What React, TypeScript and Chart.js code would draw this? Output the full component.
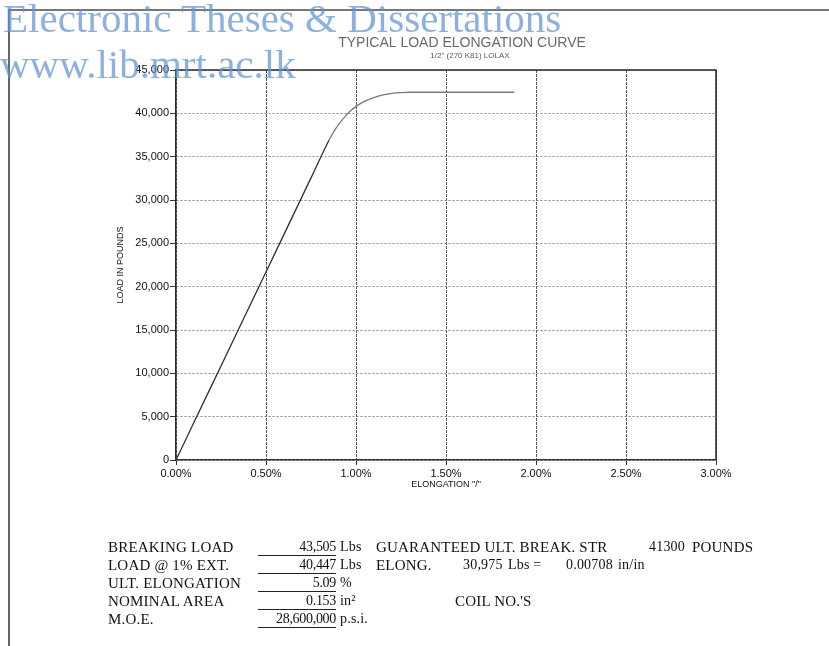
import React, { useEffect, useRef } from "react";
import { Chart, registerables } from "chart.js";

Chart.register(...registerables);

// ---- Text ----
const TITLE = "TYPICAL LOAD ELONGATION CURVE";
const SUBTITLE = '1/2" (270 K81) LOLAX';
const X_TITLE = 'ELONGATION "/"';
const Y_TITLE = "LOAD IN POUNDS";
const WATERMARK_LINE1 = "Electronic Theses & Dissertations";
const WATERMARK_LINE2 = "www.lib.mrt.ac.lk";

// ---- Data (elongation in %, load in lbs) ----
const elongation = [0, 0.1, 0.25, 0.5, 0.75, 0.85, 0.88, 0.91, 0.94, 0.97, 1.0, 1.05, 1.1, 1.15, 1.2, 1.25, 1.3, 1.5, 1.88];
const load = [0, 4350, 10850, 21700, 32550, 36900, 38000, 38900, 39650, 40300, 40800, 41400, 41820, 42120, 42310, 42400, 42430, 42430, 42430];
// elongation (%) where the plotted line changes from dark (elastic) to grey (yield)
const YIELD_START = 0.85;

// ---- Axis ticks ----
const X_MIN = 0;
const X_MAX = 3;
const X_STEP = 0.5;
const Y_MIN = 0;
const Y_MAX = 45000;
const Y_STEP = 5000;

// ---- Table below the chart ----
const tableLabels = ["BREAKING LOAD", "LOAD @ 1% EXT.", "ULT. ELONGATION", "NOMINAL AREA", "M.O.E."];
const tableValues = ["43,505", "40,447", "5.09", "0.153", "28,600,000"];
const tableUnits = ["Lbs", "Lbs", "%", "in²", "p.s.i."];

const SANS = "'Liberation Sans', Arial, sans-serif";
const SERIF = "'Liberation Serif', 'Times New Roman', serif";

const decorPlugin = {
  id: "decor",
  afterDraw(chart: any) {
    const { ctx, chartArea: a } = chart;
    ctx.save();
    ctx.strokeStyle = "#2a2a2a";
    ctx.lineWidth = 1.5;
    ctx.beginPath();
    ctx.moveTo(a.left, a.top);
    ctx.lineTo(a.right, a.top);
    ctx.lineTo(a.right, a.bottom);
    ctx.stroke();
    const cx = (a.left + a.right) / 2 + 16;
    ctx.fillStyle = "#6a6a6a";
    ctx.textAlign = "center";
    ctx.textBaseline = "middle";
    ctx.font = `14px ${SANS}`;
    ctx.fillText(TITLE, cx, 43);
    ctx.fillStyle = "#5a5a5a";
    ctx.font = `8px ${SANS}`;
    ctx.fillText(SUBTITLE, cx + 8, 56);
    ctx.restore();
  },
};

function ChartCanvas() {
  const ref = useRef<HTMLCanvasElement | null>(null);
  useEffect(() => {
    if (!ref.current) return;
    const chart = new Chart(ref.current, {
      type: "scatter",
      data: {
        datasets: [
          {
            label: "Load",
            data: elongation.map((x, i) => ({ x, y: load[i] })),
            showLine: true,
            borderColor: "#303030",
            borderWidth: 1.3,
            pointRadius: 0,
            cubicInterpolationMode: "monotone",
            segment: {
              borderColor: (c: any) => (c.p0.parsed.x >= YIELD_START ? "#7a7a7a" : "#303030"),
            },
          },
        ],
      },
      options: {
        animation: false,
        responsive: false,
        devicePixelRatio: 1,
        layout: { padding: { left: 111, right: 113, top: 70, bottom: 152 } },
        plugins: {
          legend: { display: false },
          title: { display: false },
          tooltip: { enabled: false },
        },
        scales: {
          x: {
            type: "linear",
            min: X_MIN,
            max: X_MAX,
            afterFit: (s: any) => {
              s.height = 34;
            },
            ticks: {
              stepSize: X_STEP,
              padding: 2,
              color: "#111",
              font: { family: SANS, size: 11 },
              maxRotation: 0,
              callback: (v: any) => Number(v).toFixed(2) + "%",
            },
            grid: {
              color: "#555",
              lineWidth: 1,
              tickLength: 5,
              tickColor: "#333",
              tickBorderDash: [],
            },
            border: { color: "#333", width: 1.5, dash: [3, 1] },
            title: {
              display: true,
              text: X_TITLE,
              color: "#111",
              font: { family: SANS, size: 9 },
            },
          },
          y: {
            type: "linear",
            min: Y_MIN,
            max: Y_MAX,
            afterFit: (s: any) => {
              s.width = 65;
            },
            ticks: {
              stepSize: Y_STEP,
              padding: 1,
              color: "#111",
              font: { family: SANS, size: 11 },
              callback: (v: any) => Number(v).toLocaleString("en-US"),
            },
            grid: {
              color: "#888",
              lineWidth: 1,
              tickLength: 6,
              tickColor: "#333",
              tickBorderDash: [],
            },
            border: { color: "#2a2a2a", width: 1.5, dash: [2, 2] },
            title: {
              display: true,
              text: Y_TITLE,
              color: "#111",
              font: { family: SANS, size: 9 },
            },
          },
        },
      },
      plugins: [decorPlugin],
    } as any);
    return () => chart.destroy();
  }, []);
  return (
    <canvas
      ref={ref}
      width={829}
      height={646}
      style={{ position: "absolute", left: 0, top: 0, width: 829, height: 646 }}
    />
  );
}

const rowBaselines = [552, 570, 588, 606, 624];

// top of an 18px line box whose text baseline sits at `baseline` (Liberation Serif metrics)
const topFor = (baseline: number, fs: number) => baseline - ((18 - 1.107 * fs) / 2 + 0.891 * fs);

function Cell(props: { left: number; row: number; fs?: number; style?: React.CSSProperties; children: React.ReactNode }) {
  const fs = props.fs ?? 15;
  return (
    <div
      style={{
        position: "absolute",
        left: props.left,
        top: topFor(rowBaselines[props.row], fs),
        fontFamily: SERIF,
        fontSize: fs,
        lineHeight: "18px",
        color: "#111",
        whiteSpace: "nowrap",
        letterSpacing: 0.2,
        ...props.style,
      }}
    >
      {props.children}
    </div>
  );
}

function Table() {
  return (
    <>
      {tableLabels.map((t, i) => (
        <Cell key={"l" + i} left={108} row={i}>{t}</Cell>
      ))}
      {tableValues.map((t, i) => (
        <Cell
          key={"v" + i}
          left={258}
          row={i}
          fs={14}
          style={{ width: 78, textAlign: "right", letterSpacing: -0.3, height: 17, borderBottom: "1.3px solid #222" }}
        >
          {t}
        </Cell>
      ))}
      {tableUnits.map((t, i) => (
        <Cell key={"u" + i} left={340} row={i} fs={14}>{t}</Cell>
      ))}
      <Cell left={376} row={0}>GUARANTEED ULT. BREAK. STR</Cell>
      <Cell left={649} row={0} fs={14}>41300</Cell>
      <Cell left={692} row={0}>POUNDS</Cell>
      <Cell left={376} row={1}>ELONG.</Cell>
      <Cell left={463} row={1} fs={14}>30,975</Cell>
      <Cell left={508} row={1} fs={14}>Lbs =</Cell>
      <Cell left={566} row={1} fs={14}>0.00708</Cell>
      <Cell left={618} row={1} fs={14}>in/in</Cell>
      <Cell left={455} row={3}>COIL NO.'S</Cell>
    </>
  );
}

const watermarkStyle: React.CSSProperties = {
  position: "absolute",
  fontFamily: SERIF,
  fontSize: 41,
  lineHeight: "41px",
  color: "rgba(95,145,210,0.72)",
  whiteSpace: "nowrap",
  pointerEvents: "none",
};

export default function App() {
  return (
    <div
      style={{
        position: "absolute",
        left: 0,
        top: 0,
        width: 829,
        height: 646,
        background: "#fff",
        overflow: "hidden",
      }}
    >
      <ChartCanvas />
      <div style={{ position: "absolute", left: 9, top: 9, right: 0, height: 2, background: "#777" }} />
      <div style={{ position: "absolute", left: 8, top: 9, bottom: 0, width: 2, background: "#666" }} />
      <Table />
      <div style={{ ...watermarkStyle, left: 3, top: -2 }}>{WATERMARK_LINE1}</div>
      <div style={{ ...watermarkStyle, left: 0, top: 44 }}>{WATERMARK_LINE2}</div>
    </div>
  );
}
